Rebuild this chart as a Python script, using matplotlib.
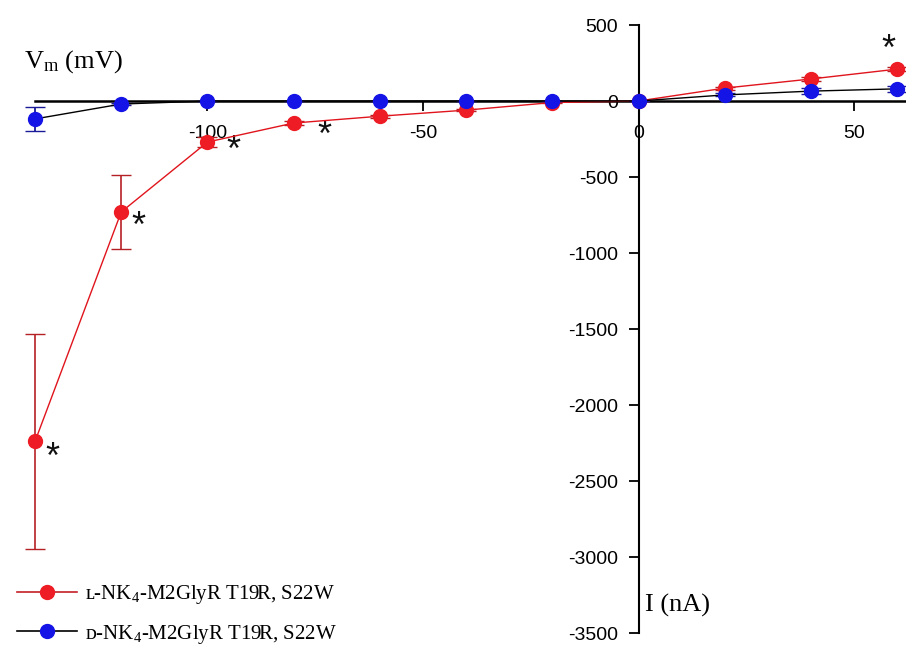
import numpy as np
import matplotlib.pyplot as plt
from matplotlib.lines import Line2D

plt.rcParams['axes.unicode_minus'] = False
plt.rcParams['mathtext.fontset'] = 'custom'
plt.rcParams['mathtext.rm'] = 'Liberation Serif'
plt.rcParams['mathtext.it'] = 'Liberation Serif:italic'

# current steps (nA)
current = [-140, -120, -100, -80, -60, -40, -20, 0, 20, 40, 60]

# L-NK4 variant
l_vm = [-2240, -730, -270, -145, -100, -60, -10, 0, 85, 145, 210]
l_err = [710, 245, 30, 15, 10, 8, 5, 0, 10, 12, 15]

# D-NK4 variant
d_vm = [-118, -20, 0, 0, 0, 0, 0, 0, 40, 65, 80]
d_err = [80, 8, 0, 0, 0, 0, 0, 0, 10, 20, 20]

# significance marks (x, y)
star_x = [-136, -116, -94, -73, 58]
star_y = [-2350, -830, -330, -230, 330]

serif = ['Liberation Serif', 'DejaVu Serif']
sans = ['Liberation Sans', 'DejaVu Sans']

red, red_dark = '#ee1c24', '#b52025'
blue, blue_dark = '#1414e6', '#1a1a9a'

fig = plt.figure(figsize=(9.06, 6.58), dpi=100)
ax = fig.add_axes([35 / 906, 1 - 633 / 658, 1 - 35 / 906, (633 - 25) / 658])

eb1 = ax.errorbar(current, l_vm, yerr=l_err, color='#e0141c', ecolor=red_dark,
                  elinewidth=1.2, capsize=7, lw=1.0, marker='o', ms=10,
                  mfc=red, mec=red, zorder=4)
eb2 = ax.errorbar(current, d_vm, yerr=d_err, color='black', ecolor=blue_dark,
                  elinewidth=1.3, capsize=7, lw=1.0, marker='o', ms=10,
                  mfc=blue, mec=blue, zorder=5)
for eb in (eb1, eb2):
    for art in eb.get_children():
        art.set_clip_on(False)

for sx, sy in zip(star_x, star_y):
    ax.text(sx, sy, '*', fontsize=26, ha='center', va='center',
            family=sans, color='#111111')

ax.set_xlim(-140, 62)
ax.set_ylim(-3500, 500)

ax.spines['left'].set_position(('data', 0))
ax.spines['bottom'].set_position(('data', 0))
ax.spines['right'].set_visible(False)
ax.spines['top'].set_visible(False)
ax.spines['left'].set_linewidth(1.5)
ax.spines['bottom'].set_linewidth(1.8)

ax.set_xticks([-100, -50, 0, 50])
ax.set_yticks(np.arange(-3500, 501, 500))
ax.tick_params(axis='both', direction='out', length=7, width=1.3,
               labelsize=14)
ax.tick_params(axis='x', pad=10)
ax.tick_params(axis='y', pad=8)
for lab in ax.get_xticklabels() + ax.get_yticklabels():
    lab.set_family(sans)

fig.text(24 / 906, 1 - 62 / 658, 'V$_{\\rm m}$ (mV)', fontsize=19,
         family=serif, va='center', ha='left')
fig.text(645 / 906, 1 - 605 / 658, 'I (nA)', fontsize=19,
         family=serif, va='center', ha='left')

handles = [
    Line2D([], [], color='#c42028', lw=1.2, marker='o', ms=10, mfc=red, mec=red),
    Line2D([], [], color='black', lw=1.2, marker='o', ms=10, mfc=blue, mec=blue),
]
labels = ['ʟ-NK$_4$-M2GlyR T19R, S22W', 'ᴅ-NK$_4$-M2GlyR T19R, S22W']
fig.legend(handles, labels, loc='lower left', bbox_to_anchor=(0.005, 0.0),
           frameon=False, handlelength=2.9, handletextpad=0.35,
           labelspacing=0.8, borderaxespad=0.2,
           prop={'family': serif, 'size': 15})

fig.savefig('out.png', dpi=100)
